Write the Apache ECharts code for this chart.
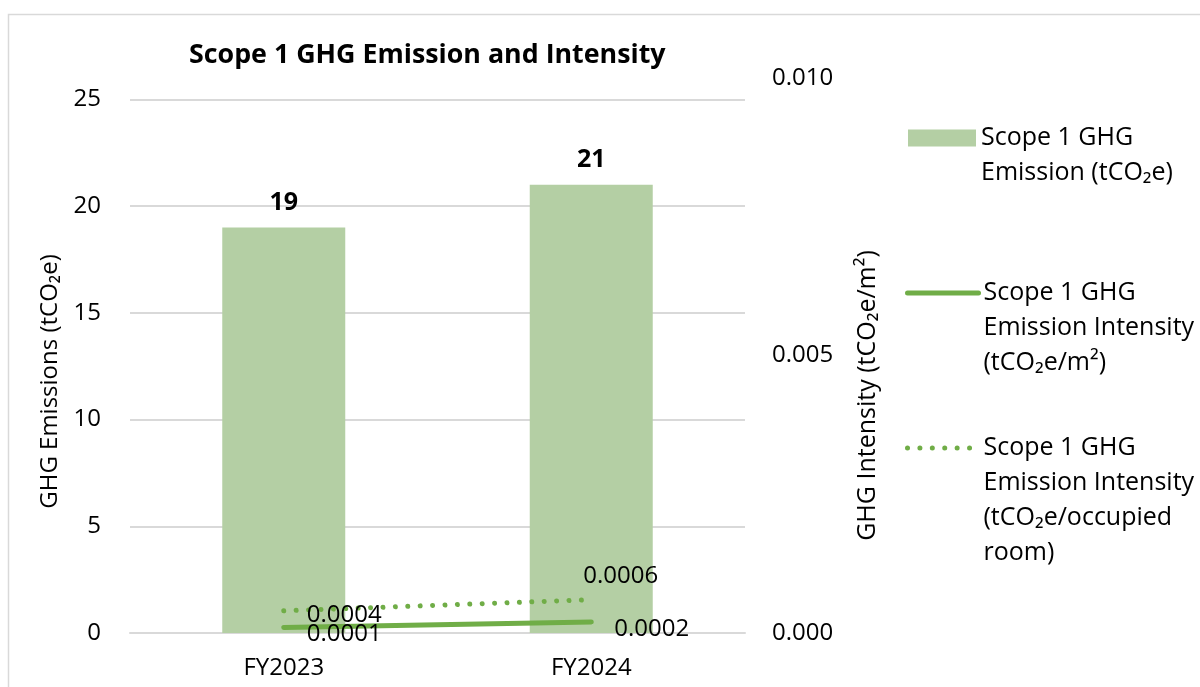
<!DOCTYPE html>
<html>
<head>
<meta charset="utf-8">
<title>Scope 1 GHG Emission and Intensity</title>
<script src="https://cdn.jsdelivr.net/npm/echarts@6/dist/echarts.min.js"></script>
<style>
  html, body { margin: 0; padding: 0; background: #ffffff; }
  #chart { width: 1200px; height: 687px; }
</style>
</head>
<body>
<div id="chart"></div>
<script>
// Reporting years
const categories = ['FY2023', 'FY2024'];

// Scope 1 emissions (tCO2e)
const emissions = [19, 21];
// Emission intensity per floor area (tCO2e/m²)
const intensityArea = [0.0001, 0.0002];
// Emission intensity per occupied room (tCO2e/occupied room)
const intensityRoom = [0.0004, 0.0006];

// Axis ranges
const leftAxis = { min: 0, max: 26, interval: 5 };
const rightAxis = { min: 0, max: 0.01, interval: 0.005 };

const seriesNames = [
  'Scope 1 GHG Emission (tCO\u2082e)',
  'Scope 1 GHG Emission Intensity (tCO\u2082e/m\u00b2)',
  'Scope 1 GHG Emission Intensity (tCO\u2082e/occupied room)'
];
const legendLines = [
  ['Scope 1 GHG', 'Emission (tCO\u2082e)'],
  ['Scope 1 GHG', 'Emission Intensity', '(tCO\u2082e/m\u00b2)'],
  ['Scope 1 GHG', 'Emission Intensity', '(tCO\u2082e/occupied', 'room)']
];

const FONT = '"Open Sans", "Noto Sans", sans-serif';
const TEXT = '#000000';
const BAR = '#b4cfa4';
const LINE = '#70ad47';
const GRID = '#d9d9d9';

const DOTS = [0.01, 12.4];
const LEGEND_LH = 35;
const legendCenters = [138, 293, 448];

const legendLineStyles = [
  {},
  { color: LINE, width: 5, type: 'solid', cap: 'round' },
  { color: LINE, width: 5, type: DOTS, cap: 'round' }
];

// one legend block per series; leading blank lines keep the symbol
// level with the first line of the wrapped label
const legends = seriesNames.map((name, i) => {
  const n = legendLines[i].length;
  return {
    data: [{ name: name, icon: i === 0 ? 'rect' : undefined }],
    orient: 'vertical',
    left: i === 0 ? 908 : 905,
    top: legendCenters[i] - (2 * n - 1) * LEGEND_LH / 2,
    padding: 0,
    itemWidth: i === 0 ? 68 : 71,
    itemHeight: i === 0 ? 17 : 10,
    selectedMode: false,
    itemStyle: i === 0 ? {} : { opacity: 0 },
    lineStyle: legendLineStyles[i],
    formatter: () => '\n'.repeat(n - 1) + legendLines[i].join('\n'),
    textStyle: {
      fontFamily: FONT,
      fontSize: 25,
      color: TEXT,
      lineHeight: LEGEND_LH
    }
  };
});

// label placement for the intensity values
const areaLabelOffsets = [[0, 7], [0, 7]];
const roomLabelOffsets = [[0, 4], [-31, -24]];

function lineData(values, offsets) {
  return values.map((v, i) => ({
    value: v,
    label: { offset: offsets[i] }
  }));
}

const lineLabel = {
  show: true,
  position: 'right',
  distance: 23,
  fontFamily: FONT,
  fontSize: 24,
  color: TEXT,
  formatter: p => p.value.toFixed(4)
};

const chart = echarts.init(document.getElementById('chart'), null, { renderer: 'canvas' });

chart.setOption({
  animation: false,
  backgroundColor: '#ffffff',
  textStyle: { fontFamily: FONT },
  title: {
    text: 'Scope 1 GHG Emission and Intensity',
    left: 189,
    top: 42,
    padding: 0,
    textStyle: { fontFamily: FONT, fontSize: 26.8, fontWeight: 'bold', color: TEXT }
  },
  graphic: [{
    type: 'rect',
    silent: true,
    shape: { x: 8.5, y: 14.5, width: 1220, height: 700 },
    style: { fill: 'none', stroke: GRID, lineWidth: 1.5 }
  }],
  legend: legends,
  grid: { left: 130, right: 455, top: 78, bottom: 54, containLabel: false },
  xAxis: {
    type: 'category',
    data: categories,
    axisTick: { show: false },
    axisLine: { show: true, lineStyle: { color: GRID, width: 2 } },
    axisLabel: { fontFamily: FONT, fontSize: 24, color: TEXT, margin: 23 }
  },
  yAxis: [{
    type: 'value',
    min: leftAxis.min,
    max: leftAxis.max,
    interval: leftAxis.interval,
    name: 'GHG Emissions (tCO\u2082e)',
    nameLocation: 'middle',
    nameRotate: 90,
    nameGap: 58,
    nameTextStyle: { fontFamily: FONT, fontSize: 24, color: TEXT, padding: [0, 52, 0, 0] },
    axisLine: { show: false },
    axisTick: { show: false },
    axisLabel: { fontFamily: FONT, fontSize: 24, color: TEXT, margin: 29, showMaxLabel: false },
    splitLine: { show: true, showMinLine: false, showMaxLine: false, lineStyle: { color: GRID, width: 2 } }
  }, {
    type: 'value',
    min: rightAxis.min,
    max: rightAxis.max,
    interval: rightAxis.interval,
    position: 'right',
    name: 'GHG Intensity (tCO\u2082e/m\u00b2)',
    nameLocation: 'middle',
    nameRotate: 90,
    nameGap: 110,
    nameTextStyle: { fontFamily: FONT, fontSize: 25, color: TEXT, padding: [0, 80, 0, 0] },
    axisLine: { show: false },
    axisTick: { show: false },
    splitLine: { show: false },
    axisLabel: {
      fontFamily: FONT, fontSize: 24, color: TEXT, margin: 27,
      formatter: v => v.toFixed(3)
    }
  }],
  series: [{
    name: seriesNames[0],
    type: 'bar',
    data: emissions,
    barWidth: '40%',
    itemStyle: { color: BAR },
    label: {
      show: true,
      position: 'top',
      distance: 12,
      fontFamily: FONT,
      fontSize: 25,
      fontWeight: 'bold',
      color: TEXT
    }
  }, {
    name: seriesNames[1],
    type: 'line',
    yAxisIndex: 1,
    data: lineData(intensityArea, areaLabelOffsets),
    symbol: 'circle',
    symbolSize: 0.1,
    showSymbol: true,
    itemStyle: { color: LINE },
    lineStyle: { color: LINE, width: 5, cap: 'round' },
    label: lineLabel,
    z: 3
  }, {
    name: seriesNames[2],
    type: 'line',
    yAxisIndex: 1,
    data: lineData(intensityRoom, roomLabelOffsets),
    symbol: 'circle',
    symbolSize: 0.1,
    showSymbol: true,
    itemStyle: { color: LINE },
    lineStyle: { color: LINE, width: 5, type: DOTS, cap: 'round' },
    label: lineLabel,
    z: 3
  }]
});
</script>
</body>
</html>
